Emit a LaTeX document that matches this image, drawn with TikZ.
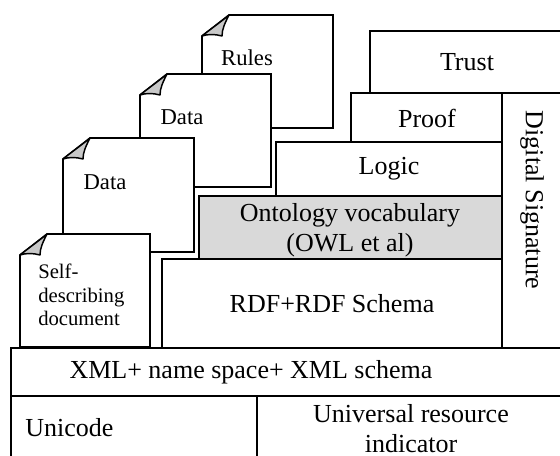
\documentclass[tikz,border=0pt]{standalone}
\usepackage{fontspec}
\setmainfont{Liberation Serif}
\definecolor{ontgray}{HTML}{D9D9D9}
\definecolor{foldgray}{HTML}{C8C8C8}
\tikzset{
  box/.style={draw=black, line width=1.2pt, fill=white, line join=miter},
  graybox/.style={box, fill=ontgray},
  fold/.style={draw=black, line width=1.1pt, fill=foldgray, line join=round},
  lbl/.style={inner sep=0pt, font=\fontsize{19.5}{22.5}\selectfont, align=center},
  doclbl/.style={inner sep=0pt, font=\fontsize{17}{20}\selectfont},
  smalllbl/.style={inner sep=0pt, font=\fontsize{15.5}{17.5}\selectfont, align=left},
}
\newcommand\mydoc[4]{%
  \filldraw[box] (#1,#4) -- (#1,#2+21) -- (#1+27,#2) -- (#3,#2) -- (#3,#4) -- cycle;
  \filldraw[fold] (#1,#2+21) .. controls (#1+10,#2+13) and (#1+20,#2+6) .. (#1+27,#2)
     .. controls (#1+23,#2+8) and (#1+20,#2+14) .. (#1+20,#2+21)
     .. controls (#1+13,#2+19) and (#1+6,#2+19) .. cycle;
}
\begin{document}
\begin{tikzpicture}[x=0.75pt, y=-0.75pt]
\useasboundingbox (0,0) rectangle (560,455);
\clip (0,0) rectangle (560,455);
% documents
\mydoc{202}{15}{333}{128}
\mydoc{140}{74}{271}{187}
\mydoc{63}{138}{194}{252}
\mydoc{20}{234}{150}{347}
\node[doclbl] (rules) at (247,58) {Rules};
\node[doclbl] (data2) at (182,117) {Data};
\node[doclbl] (data1) at (105,182) {Data};
\node[smalllbl, anchor=west] (self) at (38,295) {Self-\\describing\\document};
% layer boxes
\filldraw[box] (370,31) rectangle (566,93);
\filldraw[box] (351,93) rectangle (502,142);
\filldraw[box] (276,142) rectangle (502,196);
\filldraw[graybox] (199,196) rectangle (502,259);
\filldraw[box] (162,259) rectangle (502,348);
\filldraw[box] (502,93) rectangle (566,348);
\filldraw[box] (11,348) rectangle (566,396);
\filldraw[box] (11,396) rectangle (257,462);
\filldraw[box] (257,396) rectangle (566,462);
% labels
\node[lbl] (trust) at (467,62) {Trust};
\node[lbl] (proof) at (427,118) {Proof};
\node[lbl] (logic) at (389,169) {Logic};
\node[lbl] (onto) at (350,230) {Ontology vocabulary\\(OWL et al)};
\node[lbl] (rdf) at (332,304) {RDF+RDF Schema};
\node[lbl, rotate=-90] (sig) at (532,200) {Digital Signature};
\node[lbl] (xml) at (251,372) {XML+ name space+ XML schema};
\node[lbl, anchor=west] (uni) at (25,428) {Unicode};
\node[lbl] (uri) at (411,429) {Universal resource\\indicator};
\end{tikzpicture}
\end{document}
